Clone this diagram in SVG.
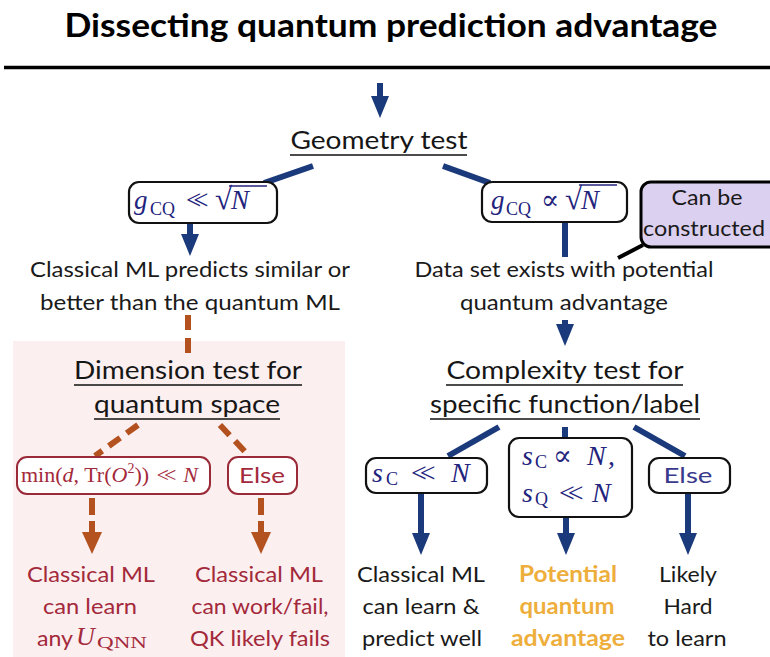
<svg xmlns="http://www.w3.org/2000/svg" width="770" height="657" viewBox="0 0 770 657">
<style>
.t{font-family:Lato,"Open Sans","DejaVu Sans",sans-serif;text-anchor:middle}
.title{font-size:33px;font-weight:bold;fill:#000}
.h{font-size:25px;fill:#161616}
.b{font-size:21px;fill:#1a1a1a}
.bb{font-size:22px;fill:#1a1a1a}
.red{fill:#a3293b}
.gold{fill:#eeae3c;font-weight:bold}
.m{font-family:"Liberation Serif","DejaVu Serif",serif;fill:#23237d}
.mr{font-family:"Liberation Serif","DejaVu Serif",serif;fill:#a3293b}
.i{font-style:italic}
.ll{letter-spacing:-7px}
.box{fill:#fff;stroke:#111;stroke-width:2.2}
.rbox{fill:#fff;stroke:#9b2a38;stroke-width:2}
.pbox{fill:#dcd0f0;stroke:#000;stroke-width:3}
.conn{stroke:#1b3a7b;stroke-width:6;fill:none}
.dash{stroke:#b3521f;stroke-width:6;stroke-dasharray:14 8;fill:none}
.ul{stroke:#111;stroke-width:1.6}
</style>
<defs>
<marker id="ab" markerUnits="userSpaceOnUse" markerWidth="22" markerHeight="18" viewBox="0 0 22 18" refX="1" refY="9" orient="auto"><path d="M0,0 L22,9 L0,18 z" fill="#1b3a7b"/></marker>
<marker id="ao" markerUnits="userSpaceOnUse" markerWidth="22" markerHeight="20" viewBox="0 0 22 20" refX="1" refY="10" orient="auto"><path d="M0,0 L22,10 L0,20 z" fill="#b3521f"/></marker>
</defs>
<rect width="770" height="657" fill="#fff"/>

<g id="title">
<text class="t title" x="391" y="37" textLength="653" lengthAdjust="spacingAndGlyphs">Dissecting quantum prediction advantage</text>
<line x1="4" y1="67.5" x2="770" y2="67.5" stroke="#000" stroke-width="3.5"/>
</g>

<rect id="dimension-region" x="13" y="341" width="332" height="316" fill="#fcefef"/>

<g id="connectors">
<line class="conn" x1="380" y1="83" x2="380" y2="97" marker-end="url(#ab)"/>
<line class="conn" x1="313" y1="166" x2="264" y2="183"/>
<line class="conn" x1="443" y1="166" x2="490" y2="183"/>
<line class="conn" x1="190" y1="223" x2="190" y2="235" marker-end="url(#ab)"/>
<line class="conn" x1="565" y1="222" x2="565" y2="257"/>
<line x1="643" y1="245" x2="618" y2="258" stroke="#000" stroke-width="4"/>
<line class="conn" x1="565" y1="320" x2="565" y2="325" marker-end="url(#ab)"/>
<line class="dash" x1="188" y1="315" x2="188" y2="354" style="stroke-dasharray:15 8"/>
<line class="dash" x1="138" y1="425" x2="95" y2="456"/>
<line class="dash" x1="220" y1="425" x2="249" y2="456"/>
<line class="dash" x1="92" y1="498" x2="92" y2="533" style="stroke-dasharray:17 6" marker-end="url(#ao)"/>
<line class="dash" x1="261" y1="498" x2="261" y2="533" style="stroke-dasharray:17 6" marker-end="url(#ao)"/>
<line class="conn" x1="499" y1="427" x2="448" y2="456"/>
<line class="conn" x1="565" y1="427" x2="565" y2="438"/>
<line class="conn" x1="634" y1="427" x2="685" y2="456"/>
<line class="conn" x1="421" y1="493" x2="421" y2="534" marker-end="url(#ab)"/>
<line class="conn" x1="566" y1="517" x2="566" y2="534" marker-end="url(#ab)"/>
<line class="conn" x1="688" y1="493" x2="688" y2="534" marker-end="url(#ab)"/>
</g>

<g id="geometry-test">
<text class="t h" x="379" y="149" textLength="177" lengthAdjust="spacingAndGlyphs">Geometry test</text>
<line class="ul" x1="290" y1="155" x2="467" y2="155"/>
</g>

<g id="g-small">
<rect class="box" x="129" y="182" width="148" height="41" rx="10"/>
<text class="m" y="209" font-size="27"><tspan class="i" x="134">g</tspan><tspan x="150" y="215" font-size="18">CQ</tspan><tspan x="186" y="209" style="letter-spacing:-8px">&lt;&lt;</tspan><tspan x="215" font-size="31">√</tspan><tspan class="i" x="231">N</tspan></text>
<line x1="229" y1="186" x2="267" y2="186" stroke="#23237d" stroke-width="1.4"/>
</g>

<g id="g-prop">
<rect class="box" x="482" y="182" width="145" height="40" rx="10"/>
<text class="m" y="209" font-size="27"><tspan class="i" x="491">g</tspan><tspan x="506" y="215" font-size="18">CQ</tspan><tspan x="541" y="209">∝</tspan><tspan x="565" font-size="31">√</tspan><tspan class="i" x="581">N</tspan></text>
<line x1="579" y1="185" x2="617" y2="185" stroke="#23237d" stroke-width="1.4"/>
</g>

<g id="can-be-constructed">
<rect class="pbox" x="641" y="182" width="140" height="65" rx="10"/>
<text class="t b" x="707" y="205" textLength="71" lengthAdjust="spacingAndGlyphs">Can be</text>
<text class="t b" x="704" y="236" textLength="122" lengthAdjust="spacingAndGlyphs">constructed</text>
</g>

<g id="classical-similar">
<text class="t b" x="190" y="277" textLength="320" lengthAdjust="spacingAndGlyphs">Classical ML predicts similar or</text>
<text class="t b" x="190" y="310" textLength="300" lengthAdjust="spacingAndGlyphs">better than the quantum ML</text>
</g>

<g id="data-set-exists">
<text class="t b" x="564" y="277" textLength="299" lengthAdjust="spacingAndGlyphs">Data set exists with potential</text>
<text class="t b" x="564" y="310" textLength="208" lengthAdjust="spacingAndGlyphs">quantum advantage</text>
</g>

<g id="dimension-test">
<text class="t h" x="188" y="379" textLength="228" lengthAdjust="spacingAndGlyphs">Dimension test for</text>
<line class="ul" x1="74" y1="385" x2="302" y2="385"/>
<text class="t h" x="187" y="413" textLength="186" lengthAdjust="spacingAndGlyphs">quantum space</text>
<line class="ul" x1="94" y1="419" x2="280" y2="419"/>
</g>

<g id="complexity-test">
<text class="t h" x="565" y="379" textLength="237" lengthAdjust="spacingAndGlyphs">Complexity test for</text>
<line class="ul" x1="446" y1="385" x2="683" y2="385"/>
<text class="t h" x="565" y="413" textLength="270" lengthAdjust="spacingAndGlyphs">specific function/label</text>
<line class="ul" x1="430" y1="419" x2="700" y2="419"/>
</g>

<g id="min-dim">
<rect class="rbox" x="17" y="457" width="193" height="37" rx="10"/>
<text class="mr" x="21" y="482" font-size="22">min(<tspan class="i">d</tspan>, Tr(<tspan class="i">O</tspan><tspan font-size="14" dy="-9">2</tspan><tspan dy="9">)) </tspan><tspan dx="2" style="letter-spacing:-5px">&lt;&lt;</tspan><tspan class="i" dx="12">N</tspan></text>
</g>

<g id="else-dim">
<rect class="rbox" x="228" y="457" width="69" height="37" rx="10"/>
<text class="t bb red" x="262" y="483" textLength="46" lengthAdjust="spacingAndGlyphs">Else</text>
</g>

<g id="result-classical-any">
<text class="t bb red" x="91" y="582" textLength="128" lengthAdjust="spacingAndGlyphs">Classical ML</text>
<text class="t bb red" x="90" y="614" textLength="94" lengthAdjust="spacingAndGlyphs">can learn</text>
<text class="t bb red" x="55" y="646" textLength="36" lengthAdjust="spacingAndGlyphs">any</text>
<text class="mr" y="645" font-size="26"><tspan class="i" x="76">U</tspan><tspan x="97" y="648" font-size="17" textLength="50" lengthAdjust="spacingAndGlyphs">QNN</tspan></text>
</g>

<g id="result-classical-workfail">
<text class="t bb red" x="259" y="582" textLength="128" lengthAdjust="spacingAndGlyphs">Classical ML</text>
<text class="t bb red" x="260" y="614" textLength="137" lengthAdjust="spacingAndGlyphs">can work/fail,</text>
<text class="t bb red" x="260" y="646" textLength="140" lengthAdjust="spacingAndGlyphs">QK likely fails</text>
</g>

<g id="s-small">
<rect class="box" x="366" y="458" width="121" height="35" rx="10"/>
<text class="m" y="482" font-size="28"><tspan class="i" x="372">s</tspan><tspan x="386" y="485" font-size="18">C</tspan><tspan class="ll" x="411" y="482">&lt;&lt;</tspan><tspan class="i" x="451">N</tspan></text>
</g>

<g id="s-prop">
<rect class="box" x="509" y="438" width="123" height="79" rx="10"/>
<text class="m" y="465" font-size="28"><tspan class="i" x="522">s</tspan><tspan x="535" y="468" font-size="18">C</tspan><tspan x="553" y="465">∝</tspan><tspan class="i" x="587">N</tspan><tspan x="608">,</tspan></text>
<text class="m" y="502" font-size="28"><tspan class="i" x="522">s</tspan><tspan x="535" y="505" font-size="18">Q</tspan><tspan class="ll" x="559" y="502">&lt;&lt;</tspan><tspan class="i" x="592">N</tspan></text>
</g>

<g id="else-complexity">
<rect class="box" x="649" y="458" width="81" height="35" rx="10"/>
<text class="t bb" x="688" y="483" textLength="49" lengthAdjust="spacingAndGlyphs" style="fill:#3a3a8c">Else</text>
</g>

<g id="result-classical-predict">
<text class="t bb" x="421" y="582" textLength="128" lengthAdjust="spacingAndGlyphs">Classical ML</text>
<text class="t bb" x="421" y="614" textLength="117" lengthAdjust="spacingAndGlyphs">can learn &amp;</text>
<text class="t bb" x="422" y="646" textLength="120" lengthAdjust="spacingAndGlyphs">predict well</text>
</g>

<g id="result-potential">
<text class="t bb gold" x="568" y="582" textLength="98" lengthAdjust="spacingAndGlyphs">Potential</text>
<text class="t bb gold" x="567" y="614" textLength="95" lengthAdjust="spacingAndGlyphs">quantum</text>
<text class="t bb gold" x="568" y="646" textLength="114" lengthAdjust="spacingAndGlyphs">advantage</text>
</g>

<g id="result-hard">
<text class="t bb" x="688" y="582" textLength="58" lengthAdjust="spacingAndGlyphs">Likely</text>
<text class="t bb" x="688" y="614" textLength="49" lengthAdjust="spacingAndGlyphs">Hard</text>
<text class="t bb" x="687" y="646" textLength="79" lengthAdjust="spacingAndGlyphs">to learn</text>
</g>
</svg>
